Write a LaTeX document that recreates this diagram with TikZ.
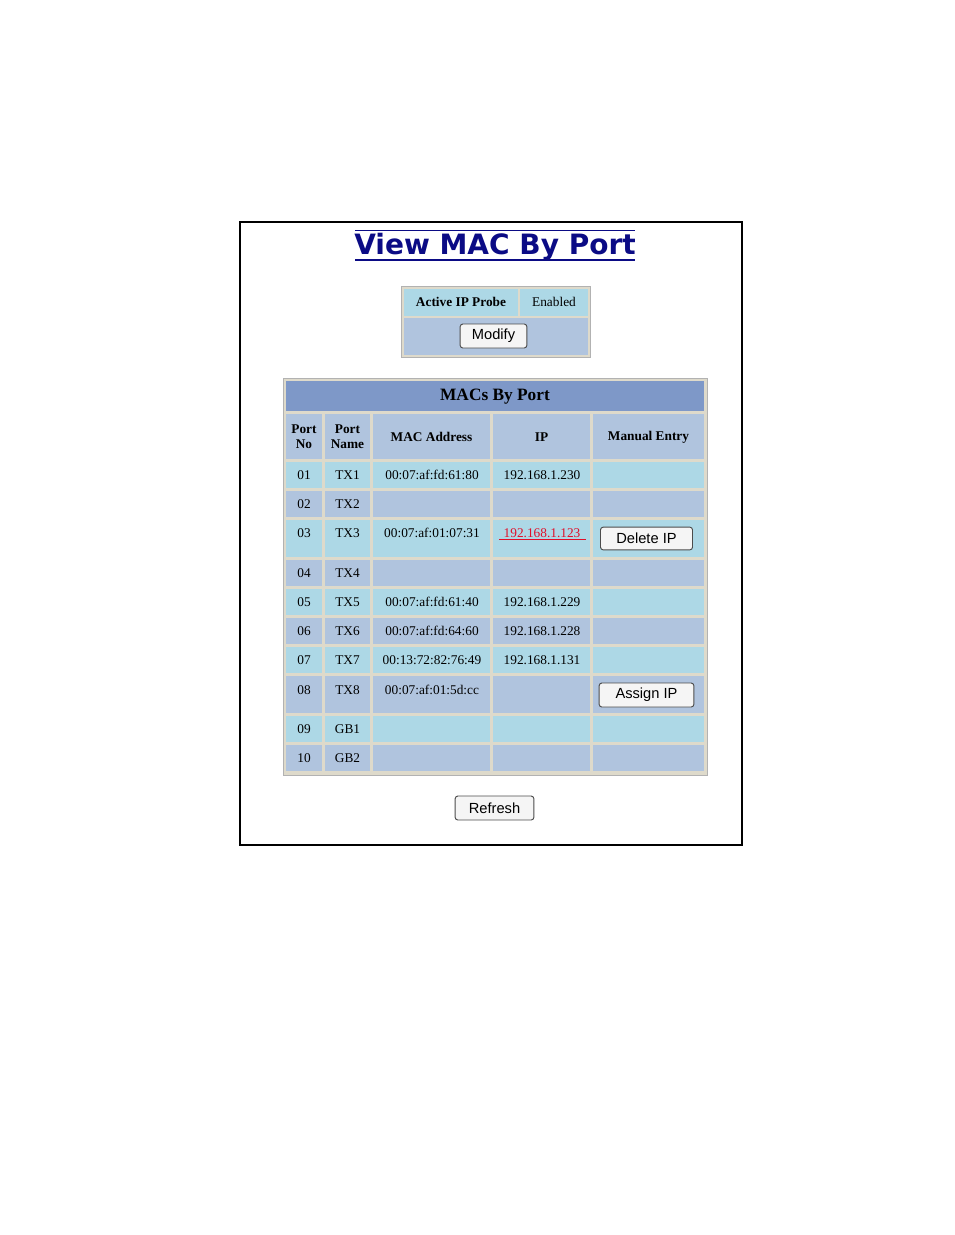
\documentclass[tikz,border=0pt]{standalone}
\usepackage{fontspec}
\setmainfont{Liberation Serif}
\newfontfamily\btnfont{Liberation Sans}
\newfontfamily\titlefont{DejaVu Sans}
\definecolor{cyanrow}{HTML}{ADD8E6}
\definecolor{steelrow}{HTML}{B0C4DE}
\definecolor{headrow}{HTML}{7E98C8}
\definecolor{gridc}{HTML}{DEDACB}
\definecolor{navy}{HTML}{0B0B85}
\definecolor{linkred}{HTML}{E0102A}
\tikzset{
  cellfill/.style={draw=none},
  txt/.style={inner sep=0pt,font=\fontsize{10}{12}\selectfont},
  hdr/.style={inner sep=0pt,font=\fontsize{10}{11}\selectfont\bfseries,align=center},
  btn/.style={draw=black!70,rounded corners=2pt,fill=black!4,line width=0.7pt}
}
\newcommand{\cellbox}[5]{\fill[#5] (#1,#2) rectangle (#3,#4);}
\begin{document}
\begin{tikzpicture}[x=0.75pt,y=-0.75pt]
\useasboundingbox (0,0) rectangle (954,1235);
% frame
\draw[line width=1.5pt] (240,222) rectangle (742,845);
% title
\node[inner sep=0pt,font=\titlefont\bfseries\fontsize{21}{24}\selectfont,text=navy] (title) at (495,247) {View MAC By Port};
\draw[navy,line width=0.9pt] (355,260) -- (635,260);
\draw[navy,line width=0.6pt] (355,230) -- (635,230);
% probe table
\fill[gridc] (401,286) rectangle (590,357);
\draw[black!30,line width=0.6pt] (401,286) rectangle (590,357);
\cellbox{404}{289}{518}{316}{cyanrow}
\cellbox{520}{289}{588}{316}{cyanrow}
\cellbox{404}{318}{588}{355}{steelrow}
\node[hdr] (probe) at (461,302) {Active IP Probe};
\node[txt] (enabled) at (554,302) {Enabled};
\node[btn,minimum width=50pt,minimum height=18pt,inner sep=0pt,font=\btnfont\fontsize{11}{12}\selectfont] (modify) at (493.5,336) {Modify};
% main table
\fill[gridc] (283,378) rectangle (707,775);
\draw[black!30,line width=0.6pt] (283,378) rectangle (707,775);
\cellbox{286}{381}{704}{411}{headrow}
\node[inner sep=0pt,font=\fontsize{13}{14}\selectfont\bfseries] (mtitle) at (495,397) {MACs By Port};
\foreach \xa/\xb in {286/322,325/370,373/490,493/590,593/704}{\cellbox{\xa}{414}{\xb}{459}{steelrow}}
\node[hdr] (h1) at (304,437) {Port\\No};
\node[hdr] (h2) at (347.5,437) {Port\\Name};
\node[hdr] (h3) at (431.5,437) {MAC Address};
\node[hdr] (h4) at (541.5,437) {IP};
\node[hdr] (h5) at (648.5,437) {Manual Entry};
\foreach \ya/\yb/\col/\ty/\p/\n/\mac/\ip in {
 462/488/cyanrow/475/01/TX1/00:07:af:fd:61:80/192.168.1.230,
 491/517/steelrow/504/02/TX2//,
 520/557/cyanrow/533/03/TX3/00:07:af:01:07:31/,
 560/586/steelrow/573/04/TX4//,
 589/615/cyanrow/602/05/TX5/00:07:af:fd:61:40/192.168.1.229,
 618/644/steelrow/631/06/TX6/00:07:af:fd:64:60/192.168.1.228,
 647/673/cyanrow/660/07/TX7/00:13:72:82:76:49/192.168.1.131,
 676/713/steelrow/690/08/TX8/00:07:af:01:5d:cc/,
 716/742/cyanrow/729/09/GB1//,
 745/771/steelrow/758/10/GB2//}{
  \foreach \xa/\xb in {286/322,325/370,373/490,493/590,593/704}{\cellbox{\xa}{\ya}{\xb}{\yb}{\col}}
  \node[txt] (p\p) at (304,\ty) {\p};
  \node[txt] (n\p) at (347.5,\ty) {\n};
  \node[txt] (m\p) at (432,\ty) {\mac};
  \node[txt] (i\p) at (542,\ty) {\ip};
}
\node[txt,text=linkred] (link) at (542,533) {192.168.1.123};
\draw[linkred,line width=0.6pt] (499,539.5) -- (586,539.5);
\node[btn,minimum width=69pt,minimum height=17pt,inner sep=0pt,font=\btnfont\fontsize{11}{12}\selectfont] (del) at (646.5,538.5) {Delete IP};
\node[btn,minimum width=71pt,minimum height=18pt,inner sep=0pt,font=\btnfont\fontsize{11}{12}\selectfont] (assign) at (646.5,695) {Assign IP};
\node[btn,minimum width=59pt,minimum height=18pt,inner sep=0pt,font=\btnfont\fontsize{11}{12}\selectfont] (refresh) at (494.5,808) {Refresh};
\end{tikzpicture}
\end{document}
